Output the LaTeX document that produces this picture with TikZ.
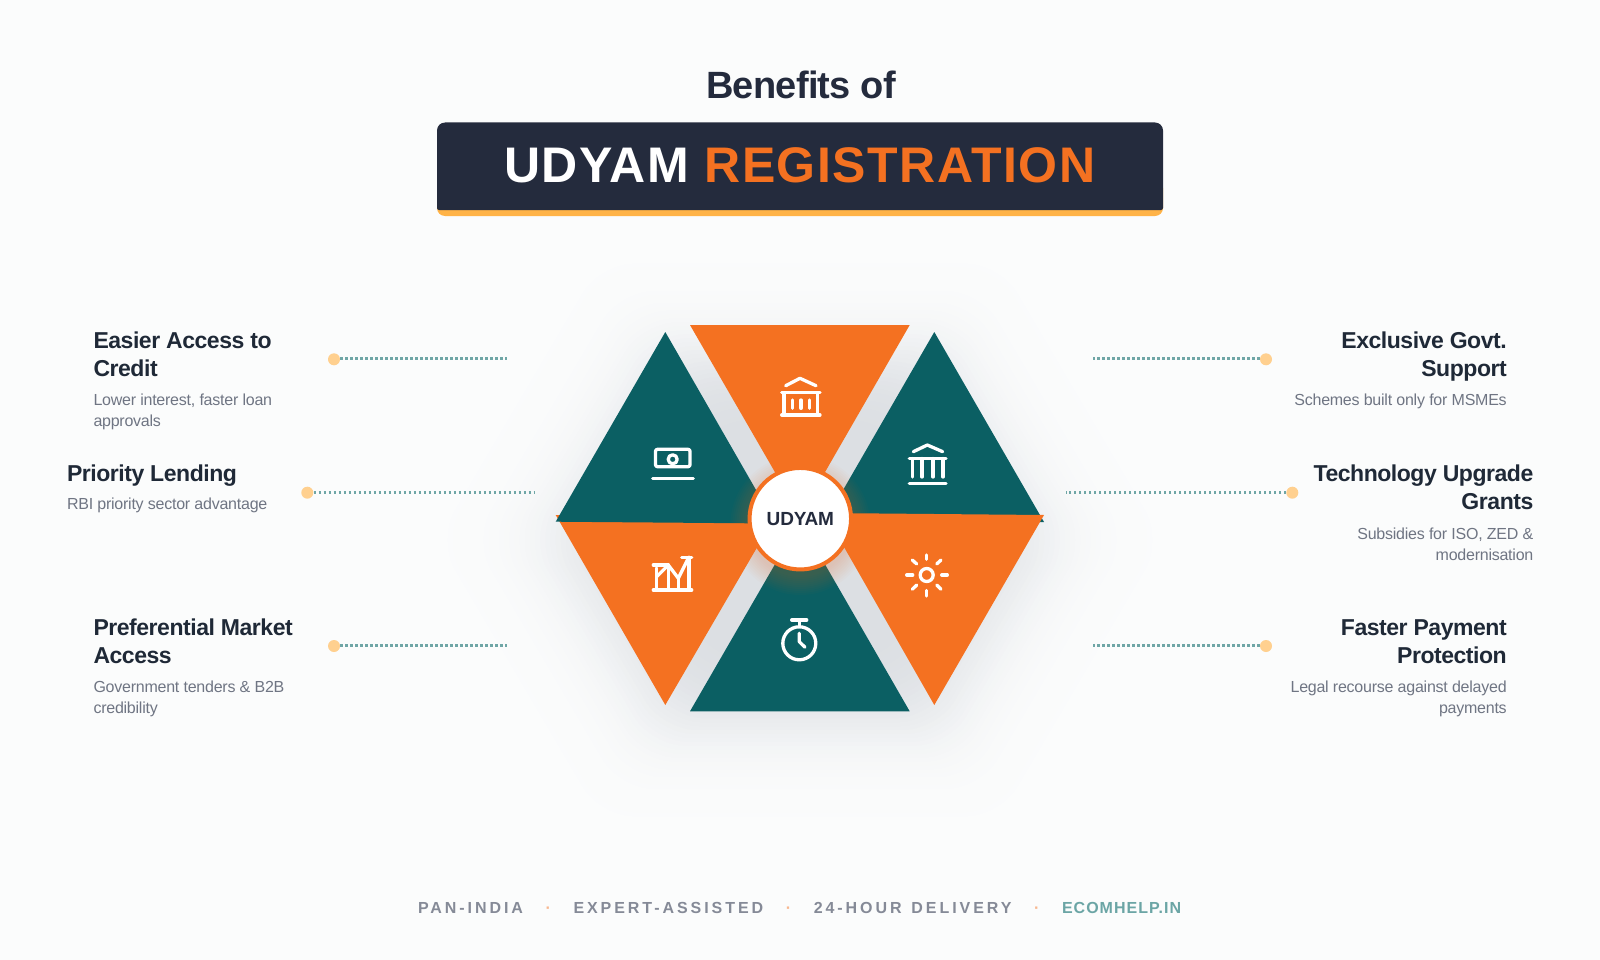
\documentclass[tikz,border=0pt]{standalone}
\usepackage{fontspec}
\setmainfont{Liberation Sans}
\definecolor{bgc}{HTML}{FBFCFC}
\definecolor{shad}{HTML}{DBDEE2}
\definecolor{navy}{HTML}{242B3D}
\definecolor{ink}{HTML}{1F2937}
\definecolor{subc}{HTML}{6F7583}
\definecolor{orng}{HTML}{F47121}
\definecolor{amber}{HTML}{FFB347}
\definecolor{tealc}{HTML}{0B5F63}
\definecolor{dotc}{HTML}{FFD08F}
\definecolor{linec}{HTML}{6FA6A6}
\definecolor{footc}{HTML}{858A97}
\definecolor{foott}{HTML}{6BA5A5}
\tikzset{
  txt/.style={inner sep=0pt,outer sep=0pt},
  head/.style={txt,text=ink,font=\fontsize{23}{28}\selectfont\bfseries\addfontfeature{LetterSpace=-2}},
  subt/.style={txt,text=subc,font=\fontsize{16}{21}\selectfont\addfontfeature{LetterSpace=-1.5}},
  foot/.style={txt,anchor=base west,text=footc,font=\fontsize{16}{20}\selectfont\bfseries\addfontfeature{LetterSpace=18.4}},
  sepdot/.style={txt,anchor=base,text=orng!50!bgc,font=\fontsize{16}{20}\selectfont\bfseries},
  pin/.style={circle,fill=dotc,inner sep=0pt,minimum size=12pt},
  leader/.style={draw=linec,line width=3pt,dash pattern=on 2.5pt off 2.5pt},
  ico/.style={draw=white,line width=3.3pt,line cap=round,line join=round},
}
\begin{document}
\begin{tikzpicture}[x=1pt,y=-1pt]
\useasboundingbox (0,0) rectangle (1600,960);
\fill[bgc] (0,0) rectangle (1600,960);
% soft shadow of the hexagon
\foreach \d in {100,96,...,-80}{
  \pgfmathsetmacro{\s}{(190+\d)/190}
  \pgfmathsetmacro{\t}{100/(1+exp(\d/22))}
  \fill[shad!\t!bgc,rounded corners=34pt,shift={(800,540)}]
    ({-134.6*\s},{-186*\s}) -- ({134.6*\s},{-186*\s}) -- ({244*\s},0) --
    ({134.6*\s},{186*\s}) -- ({-134.6*\s},{186*\s}) -- ({-244*\s},0) -- cycle;
}
% title
\node[txt,anchor=base,text=navy,font=\fontsize{38}{44}\selectfont\bfseries\addfontfeature{LetterSpace=-2}] (title) at (801,98.5) {Benefits of};
\fill[amber,rounded corners=8pt] (437,180) rectangle (1163,216);
\fill[navy] [rounded corners=2pt] (437,210) -- (437,190) [rounded corners=8pt] -- (437,122.5) -- (1163,122.5) -- (1163,190) [rounded corners=2pt] -- (1163,210) -- cycle;
\node[txt,anchor=base west,font=\fontsize{50}{60}\selectfont\bfseries\addfontfeature{LetterSpace=3.1}] (banner) at (504,183) {\textcolor{white}{UDYAM} \textcolor{orng}{REGISTRATION}};
% triangles
\fill[orng] (665.3,705) -- (555.7,515) -- (775.3,516) -- cycle;
\fill[tealc] (665.3,332) -- (555.7,521.7) -- (775.3,523.5) -- cycle;
\fill[orng] (690,325) -- (909.7,325) -- (800,515.5) -- cycle;
\fill[tealc] (934.3,332) -- (1044,522) -- (824.6,522) -- cycle;
\fill[orng] (934.3,705) -- (1044,515) -- (824.6,513) -- cycle;
\fill[tealc] (690,711.3) -- (909.7,711.3) -- (800,521) -- cycle;
% glow of the centre disc
\foreach \r in {70,68,...,52}{
  \fill[orng,opacity=0.025] (800.3,525) circle (\r);
}
\node[circle,draw=orng,line width=4pt,fill=white,minimum size=101.5pt,inner sep=0pt] (hub) at (800.3,518.7) {};
\node[txt,anchor=base,text=navy,font=\fontsize{19}{22}\selectfont\bfseries\addfontfeature{LetterSpace=-1}] (hubtxt) at (800.3,525.6) {UDYAM};
% icon: top building
\draw[ico] (785.7,385.7) -- (800,378.3) -- (816,385.7);
\draw[ico] (781.7,392.7) -- (820,392.7) (781.7,415) -- (820,415);
\draw[ico] (784,392.7) -- (784,415) (817.5,392.7) -- (817.5,415);
\draw[ico] (792.7,400) -- (792.7,408.3) (801,400) -- (801,408.3) (809.3,400) -- (809.3,408.3);
% icon: right bank
\draw[ico] (913.3,451.7) -- (927.3,445) -- (942.7,451.7);
\draw[ico] (909.3,458.5) -- (946,458.5) (909.3,483.3) -- (946,483.3);
\draw[ico] (912.5,458.5) -- (912.5,477) (922,458.5) -- (922,477) (933,458.5) -- (933,477) (943,458.5) -- (943,477);
% icon: money screen
\draw[ico,rounded corners=2pt] (655.5,449.3) rectangle (690,466.7);
\draw[ico] (672.7,459.3) circle (4.5);
\draw[ico] (652.7,478.3) -- (693.3,478.3);
% icon: chart
\draw[ico] (653.3,590) -- (691.7,590);
\draw[ico] (653.3,565) -- (668.3,565);
\draw[ico] (681.7,557.3) -- (691.7,557.3);
\draw[ico] (689,557.3) -- (689,590);
\draw[ico] (656.7,568) -- (656.7,590);
\draw[ico] (668.3,566) -- (668.3,588);
\draw[ico] (678.3,578.3) -- (678.3,588);
\draw[ico] (656.7,576.7) -- (668.3,565) -- (678.3,578.3) -- (688.3,558.3);
% icon: sun
\draw[ico] (926.7,575) circle (6.5);
\draw[ico] (926.7,555) -- (926.7,559.3) (926.7,590.5) -- (926.7,596);
\draw[ico] (906.7,575) -- (912.7,575) (941.7,575) -- (947.3,575);
\draw[ico] (912.3,560) -- (916.7,564) (941,560) -- (936.7,564);
\draw[ico] (912.3,589.3) -- (916.7,585) (941,589.3) -- (936.7,585);
% icon: timer
\draw[ico] (799.3,643.3) circle (16.5);
\draw[ico] (791.7,620) -- (806.7,620) (799.3,620) -- (799.3,626.7);
\draw[ico] (799.3,633.3) -- (799.3,641.7) -- (805,647.3);
% left items
\node[head,anchor=base west] (a1) at (93.5,348.5) {Easier Access to};
\node[head,anchor=base west] (a2) at (93.5,376) {Credit};
\node[subt,anchor=base west] (a3) at (93.5,405.2) {Lower interest, faster loan};
\node[subt,anchor=base west] (a4) at (93.5,426.2) {approvals};
\node[head,anchor=base west] (b1) at (67,481.7) {Priority Lending};
\node[subt,anchor=base west] (b2) at (67,509.2) {RBI priority sector advantage};
\node[head,anchor=base west] (c1) at (93.5,635) {Preferential Market};
\node[head,anchor=base west] (c2) at (93.5,663.3) {Access};
\node[subt,anchor=base west] (c3) at (93.5,692.3) {Government tenders \& B2B};
\node[subt,anchor=base west] (c4) at (93.5,713.3) {credibility};
% right items
\node[head,anchor=base east] (d1) at (1506.7,348.5) {Exclusive Govt.};
\node[head,anchor=base east] (d2) at (1506.7,376) {Support};
\node[subt,anchor=base east] (d3) at (1506.7,405.2) {Schemes built only for MSMEs};
\node[head,anchor=base east] (e1) at (1533.3,481.7) {Technology Upgrade};
\node[head,anchor=base east] (e2) at (1533.3,509.3) {Grants};
\node[subt,anchor=base east] (e3) at (1533.3,539.3) {Subsidies for ISO, ZED \&};
\node[subt,anchor=base east] (e4) at (1533.3,560) {modernisation};
\node[head,anchor=base east] (f1) at (1506.7,635) {Faster Payment};
\node[head,anchor=base east] (f2) at (1506.7,663.3) {Protection};
\node[subt,anchor=base east] (f3) at (1506.7,692.3) {Legal recourse against delayed};
\node[subt,anchor=base east] (f4) at (1506.7,713.3) {payments};
% leaders
\coordinate (la) at (507,358.5);
\coordinate (lb) at (534,492.5);
\coordinate (lc) at (507,645.5);
\coordinate (rd) at (1093.3,358.5);
\coordinate (re) at (1066,492.5);
\coordinate (rf) at (1093.3,645.5);
\node[pin] (pa) at (334,359.3) {};
\node[pin] (pb) at (307.3,492.7) {};
\node[pin] (pc) at (334,646) {};
\node[pin] (pd) at (1266,359.3) {};
\node[pin] (pe) at (1292.3,492.7) {};
\node[pin] (pf) at (1266,646) {};
\draw[leader] (pa.east |- la) -- (la);
\draw[leader] (pb.east |- lb) -- (lb);
\draw[leader] (pc.east |- lc) -- (lc);
\draw[leader] (pd.west |- rd) -- (rd);
\draw[leader] (pe.west |- re) -- (re);
\draw[leader] (pf.west |- rf) -- (rf);
% footer
\node[foot] (k1) at (418,913.3) {PAN-INDIA};
\node[sepdot] (s1) at (548.2,913.3) {·};
\node[foot] (k2) at (573.5,913.3) {EXPERT-ASSISTED};
\node[sepdot] (s2) at (788.6,913.3) {·};
\node[foot] (k3) at (813.8,913.3) {24-HOUR\hspace{2.4pt} DELIVERY};
\node[sepdot] (s3) at (1036.8,913.3) {·};
\node[foot,text=foott,font=\fontsize{16}{20}\selectfont\bfseries\addfontfeature{LetterSpace=6.3}] (k4) at (1062,913.3) {ECOMHELP.IN};
\end{tikzpicture}
\end{document}
